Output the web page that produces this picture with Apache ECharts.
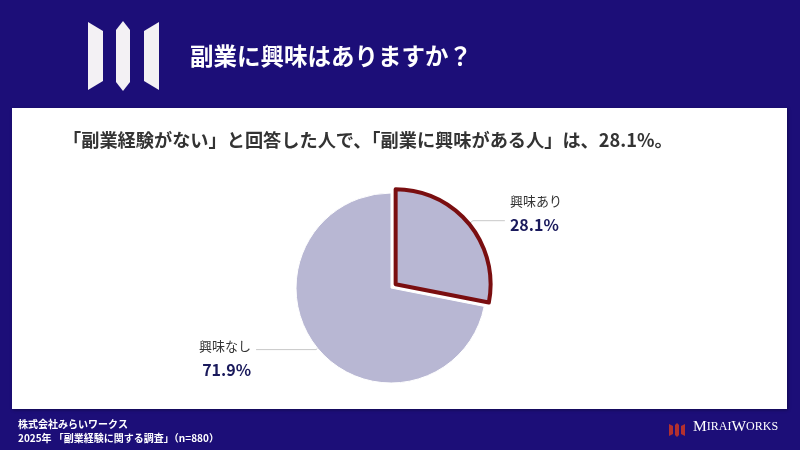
<!DOCTYPE html>
<html>
<head>
<meta charset="utf-8">
<script src="https://cdn.jsdelivr.net/npm/echarts@6/dist/echarts.min.js"></script>
<style>
html,body{margin:0;padding:0;background:#1c0e78;}
#c{width:800px;height:450px;}
</style>
</head>
<body>
<div id="c"></div>
<script>
const categories = ['興味あり', '興味なし'];
const values = [28.1, 71.9];
const titleText = '副業に興味はありますか？';
const subtitleText = '「副業経験がない」と回答した人で、「副業に興味がある人」は、28.1%。';
const footerLine1 = '株式会社みらいワークス';
const footerLine2 = '2025年 「副業経験に関する調査」（n=880）';

const NAVY = '#1c0e78';
const SLICE = '#b8b7d3';
const RED = '#7a0e10';
const JP = '"Noto Sans CJK JP", "Noto Sans", sans-serif';

const chart = echarts.init(document.getElementById('c'));

const pieData = categories.map((name, i) => {
  const item = { name: name, value: values[i] };
  if (i === 0) {
    item.selected = true;
    item.itemStyle = { borderColor: RED, borderWidth: 4 };
    item.label = { padding: [0, 0, 16, 0] };
  } else {
    item.label = { padding: [16, 0, 0, 0] };
    item.labelLine = { length: 2, length2: 60 };
  }
  return item;
});

const logoBig = [
  [[88,22],[103,31],[103,81],[88,90]],
  [[123,21],[130,30],[130,82],[123,91],[116,82],[116,30]],
  [[159,22],[144,31],[144,81],[159,90]]
];
const logoSmall = [
  [[669,424],[673,426],[673,434],[669,436]],
  [[677,423],[679,425],[679,435],[677,437],[675,435],[675,425]],
  [[685,424],[681,426],[681,434],[685,436]]
];

const graphics = [
  { type: 'rect', z: -1, shape: { x: 12, y: 108, width: 775, height: 301 },
    style: { fill: '#ffffff', shadowBlur: 3, shadowColor: 'rgba(0,0,0,0.35)', shadowOffsetX: 1, shadowOffsetY: 1 } }
];
logoBig.forEach(p => graphics.push({ type: 'polygon', shape: { points: p }, style: { fill: '#f3f1f4' } }));
logoSmall.forEach(p => graphics.push({ type: 'polygon', shape: { points: p }, style: { fill: '#b3302f' } }));
graphics.push(
  { type: 'text', x: 190, y: 56, style: { text: titleText, fill: '#ffffff', font: 'bold 23.5px ' + JP, verticalAlign: 'middle' } },
  { type: 'text', x: 63, y: 140, style: { text: subtitleText, fill: '#333333', font: 'bold 18.2px ' + JP, verticalAlign: 'middle' } },
  { type: 'text', x: 18, y: 424, style: { text: footerLine1, fill: '#ffffff', font: 'bold 10px ' + JP, verticalAlign: 'middle' } },
  { type: 'text', x: 18, y: 438, style: { text: footerLine2, fill: '#ffffff', font: 'bold 10px ' + JP, verticalAlign: 'middle' } },
  { type: 'text', x: 693, y: 435, style: {
      text: '{b|M}{s|IRAI}{b|W}{s|ORKS}', verticalAlign: 'bottom',
      rich: {
        b: { fontFamily: '"Liberation Serif", serif', fontSize: 15.5, fill: '#ffffff', color: '#ffffff' },
        s: { fontFamily: '"Liberation Serif", serif', fontSize: 12, fill: '#ffffff', color: '#ffffff' }
      } } }
);

chart.setOption({
  backgroundColor: NAVY,
  animation: false,
  graphic: graphics,
  series: [{
    type: 'pie',
    center: [391, 288],
    radius: 95,
    startAngle: 90,
    clockwise: true,
    selectedMode: 'single',
    selectedOffset: 6,
    avoidLabelOverlap: false,
    itemStyle: { color: SLICE, borderColor: '#ffffff', borderWidth: 1 },
    emphasis: { disabled: true },
    label: {
      show: true,
      position: 'outside',
      formatter: '{n|{b}}\n{p|{c}%}',
      distanceToLabelLine: 5,
      rich: {
        n: { fontFamily: JP, fontSize: 13, color: '#333333', lineHeight: 24 },
        p: { fontFamily: JP, fontSize: 16, fontWeight: 'bold', color: '#1a1a5c', lineHeight: 24 }
      }
    },
    labelLine: { show: true, length: 5, length2: 32, lineStyle: { color: '#c8c8c8', width: 1 } },
    data: pieData
  }]
});
</script>
</body>
</html>
